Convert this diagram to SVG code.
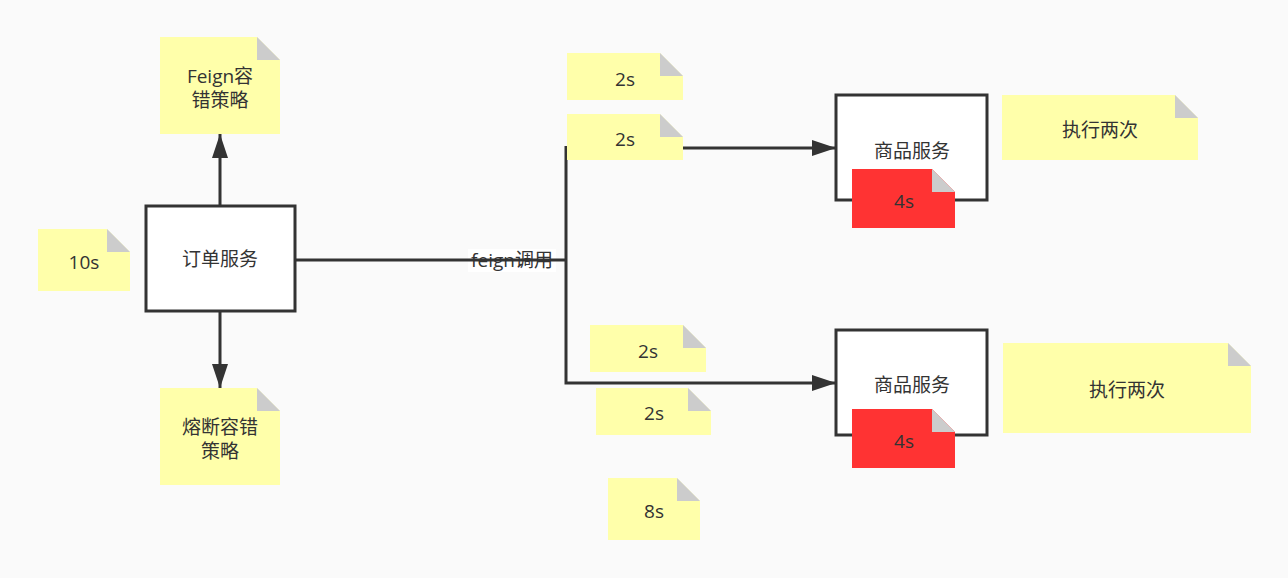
<svg xmlns="http://www.w3.org/2000/svg" width="1288" height="578" viewBox="0 0 1288 578">
<style>
text{font-family:"Open Sans","Noto Sans CJK SC",sans-serif;font-size:19px;fill:#333;text-anchor:middle;dominant-baseline:central}
.box{fill:#fff;stroke:#333;stroke-width:3}
.note{fill:#ffffaa}
.red{fill:#ff3333}
.fold{fill:#cccccc}
.edge{fill:none;stroke:#333;stroke-width:3}
</style>
<defs>
<marker id="arr" viewBox="0 0 24 16" refX="24" refY="8" markerWidth="24" markerHeight="16" markerUnits="userSpaceOnUse" orient="auto">
<path d="M0,0 L24,8 L0,16 z" fill="#333"/>
</marker>
</defs>
<rect width="1288" height="578" fill="#fafafa"/>
<g id="connectors">
<rect x="468" y="249" width="88" height="23" fill="#fff"/>
<text x="512" y="260">feign调用</text>
<path class="edge" d="M220,206 L220,134" marker-end="url(#arr)"/>
<path class="edge" d="M220,311 L220,388" marker-end="url(#arr)"/>
<path class="edge" d="M295,260 L566,260" stroke-width="4"/>
<path class="edge" d="M566,146 L566,383 L836,383" marker-end="url(#arr)"/>
<path class="edge" d="M566,148 L836,148" marker-end="url(#arr)"/>
</g>
<g id="order">
<rect class="box" x="146" y="206" width="149" height="105"/>
<text x="220" y="259">订单服务</text>
</g>
<g id="note-feign">
<path class="note" d="M160,37 H257 L280,60 V134 H160 Z"/>
<path class="fold" d="M257,37 L280,60 H257 Z"/>
<text x="220" y="76">Feign容</text>
<text x="220" y="100">错策略</text>
</g>
<g id="note-10s">
<path class="note" d="M38,229 H107 L130,252 V291 H38 Z"/>
<path class="fold" d="M107,229 L130,252 H107 Z"/>
<text x="84" y="262">10s</text>
</g>
<g id="note-fuse">
<path class="note" d="M160,388 H257 L280,411 V485 H160 Z"/>
<path class="fold" d="M257,388 L280,411 H257 Z"/>
<text x="220" y="427">熔断容错</text>
<text x="220" y="451">策略</text>
</g>
<g id="note-2s-a">
<path class="note" d="M567,53 H660 L683,76 V100 H567 Z"/>
<path class="fold" d="M660,53 L683,76 H660 Z"/>
<text x="625" y="79">2s</text>
</g>
<g id="note-2s-b">
<path class="note" d="M567,114 H660 L683,137 V160 H567 Z"/>
<path class="fold" d="M660,114 L683,137 H660 Z"/>
<text x="625" y="139">2s</text>
</g>
<g id="note-2s-c">
<path class="note" d="M590,325 H683 L706,348 V372 H590 Z"/>
<path class="fold" d="M683,325 L706,348 H683 Z"/>
<text x="648" y="351">2s</text>
</g>
<g id="note-2s-d">
<path class="note" d="M596,388 H688 L711,411 V435 H596 Z"/>
<path class="fold" d="M688,388 L711,411 H688 Z"/>
<text x="654" y="413">2s</text>
</g>
<g id="note-8s">
<path class="note" d="M608,478 H677 L700,501 V540 H608 Z"/>
<path class="fold" d="M677,478 L700,501 H677 Z"/>
<text x="654" y="511">8s</text>
</g>
<g id="goods1">
<rect class="box" x="836" y="95" width="151" height="105"/>
<text x="912" y="151">商品服务</text>
</g>
<g id="red1">
<path class="red" d="M852,169 H932 L955,192 V228 H852 Z"/>
<path class="fold" d="M932,169 L955,192 H932 Z"/>
<text x="904" y="201">4s</text>
</g>
<g id="note-twice1">
<path class="note" d="M1002,95 H1175 L1198,118 V160 H1002 Z"/>
<path class="fold" d="M1175,95 L1198,118 H1175 Z"/>
<text x="1100" y="130">执行两次</text>
</g>
<g id="goods2">
<rect class="box" x="836" y="330" width="151" height="105"/>
<text x="912" y="385">商品服务</text>
</g>
<g id="red2">
<path class="red" d="M852,409 H932 L955,432 V468 H852 Z"/>
<path class="fold" d="M932,409 L955,432 H932 Z"/>
<text x="904" y="441">4s</text>
</g>
<g id="note-twice2">
<path class="note" d="M1003,343 H1228 L1251,366 V433 H1003 Z"/>
<path class="fold" d="M1228,343 L1251,366 H1228 Z"/>
<text x="1127" y="390">执行两次</text>
</g>
</svg>
